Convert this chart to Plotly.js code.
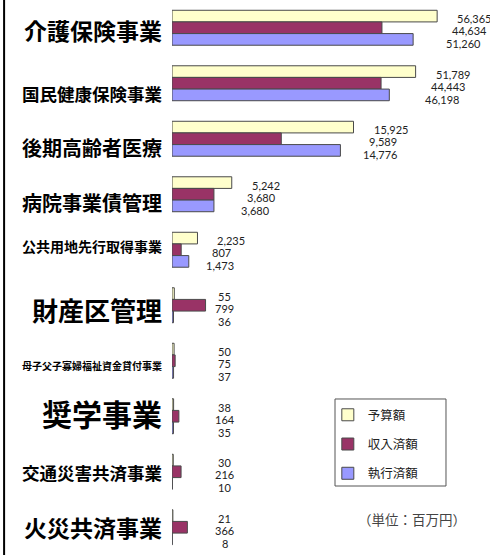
<!DOCTYPE html>
<html>
<head>
<meta charset="utf-8">
<script src="https://cdn.plot.ly/plotly-3.0.1.min.js"></script>
<style>html,body{margin:0;padding:0;background:#fff;}#chart{width:490px;height:555px;}</style>
</head>
<body>
<div id="chart"></div>
<script>
const categories = ['介護保険事業','国民健康保険事業','後期高齢者医療','病院事業債管理','公共用地先行取得事業','財産区管理','母子父子寡婦福祉資金貸付事業','奨学事業','交通災害共済事業','火災共済事業'];
const seriesNames = ['予算額','収入済額','執行済額'];
const budget  = [56365, 51789, 15925, 5242, 2235, 55, 50, 38, 30, 21];
const revenue = [44634, 44443, 9589, 3680, 807, 799, 75, 164, 216, 366];
const spent   = [51260, 46198, 14776, 3680, 1473, 36, 37, 35, 10, 8];
const unitText = '（単位：百万円）';

// The original is pasted together from three charts with different scales:
// which panel each category belongs to, and each panel's axis maximum.
const panelOf = [0, 0, 1, 1, 1, 2, 2, 2, 2, 2];
const panelMax = [67600, 27900, 7570];

// styles (kept apart from data)
const colors = ['#FFFFCC', '#993366', '#9999FF'];
const labelSizes = [23, 17.5, 20, 20, 14, 26, 10, 30, 17.5, 23];
const labelYShift = [-2, -10, -9, -8, 4, -4, -5, 3, -1, 0];
const valueXShift = [18, 13, 7];
const valueYShift = [9, -3, -16];
const smallLabelX = 1250;

const series = [budget, revenue, spent];
const nPanels = panelMax.length;
const axSuffix = p => (p === 0 ? '' : String(p + 1));

const traces = [];
for (let p = 0; p < nPanels; p++) {
  const idx = categories.map((c, i) => i).filter(i => panelOf[i] === p);
  series.forEach((vals, k) => {
    traces.push({
      type: 'bar', orientation: 'h',
      name: seriesNames[k], legendgroup: 'g' + k, showlegend: p === 0,
      y: idx.map(i => categories[i]), x: idx.map(i => vals[i]),
      xaxis: 'x' + axSuffix(p), yaxis: 'y' + axSuffix(p),
      marker: {color: colors[k], line: {color: '#4a4a4a', width: 1}},
      hoverinfo: 'none'
    });
  });
}

const annotations = [];
categories.forEach((c, i) => {
  const p = panelOf[i];
  const yr = 'y' + axSuffix(p), xr = 'x' + axSuffix(p);
  annotations.push({
    xref: 'paper', x: 0, xanchor: 'right', xshift: -8,
    yref: yr, y: c, yanchor: 'middle', yshift: labelYShift[i],
    text: c, showarrow: false,
    font: {family: '"Noto Sans CJK JP", sans-serif', size: labelSizes[i], color: '#000', weight: 'bold'}
  });
  const gmax = Math.max(budget[i], revenue[i], spent[i]);
  const small = p === nPanels - 1;
  series.forEach((vals, k) => {
    annotations.push({
      xref: xr, x: small ? smallLabelX : gmax,
      xanchor: small ? 'center' : 'left', xshift: small ? 0 : valueXShift[k],
      yref: yr, y: c, yanchor: 'middle', yshift: valueYShift[k],
      text: vals[i].toLocaleString('en-US'), showarrow: false,
      font: {family: 'Lato, "Open Sans", sans-serif', size: 11, color: '#222'}
    });
  });
});
annotations.push({
  xref: 'paper', x: 0.58, xanchor: 'left',
  yref: 'paper', y: 0.065, yanchor: 'middle',
  text: unitText, showarrow: false,
  font: {family: '"Noto Sans CJK JP", sans-serif', size: 13.5, color: '#444'}
});

const layout = {
  width: 490, height: 555,
  margin: {l: 172, r: 0, t: 0, b: 0},
  paper_bgcolor: '#fff', plot_bgcolor: '#fff',
  barmode: 'group', bargap: 0.37, bargroupgap: 0,
  showlegend: true,
  legend: {
    x: 0.49, xanchor: 'left', y: 0.279, yanchor: 'top',
    traceorder: 'grouped', tracegroupgap: 10,
    bgcolor: 'rgba(0,0,0,0)', borderwidth: 0,
    font: {family: '"Noto Sans CJK JP", sans-serif', size: 12.5, color: '#222'}
  },
  annotations: annotations,
  shapes: [
    {type: 'line', xref: 'paper', yref: 'paper', x0: -0.528, x1: -0.528, y0: 0, y1: 1, line: {color: '#000', width: 2}},
    {type: 'rect', xref: 'paper', yref: 'paper', x0: 0.5126, x1: 0.8616, y0: 0.1243, y1: 0.2811, line: {color: '#555', width: 1}}
  ]
};

// panel domains: each category row gets the same height
const nCat = categories.length;
let domTop = 1;
for (let p = 0; p < nPanels; p++) {
  const rows = panelOf.filter(q => q === p).length;
  const domBottom = domTop - rows / nCat;
  layout['xaxis' + axSuffix(p)] = {range: [0, panelMax[p]], visible: false, fixedrange: true, anchor: 'y' + axSuffix(p), domain: [0, 1]};
  layout['yaxis' + axSuffix(p)] = {domain: [Math.max(0, domBottom), Math.min(1, domTop)], autorange: 'reversed', showticklabels: false, showgrid: false, zeroline: false, showline: false, ticks: '', anchor: 'x' + axSuffix(p)};
  domTop = domBottom;
}

Plotly.newPlot('chart', traces, layout, {staticPlot: true, displayModeBar: false});
</script>
</body>
</html>
